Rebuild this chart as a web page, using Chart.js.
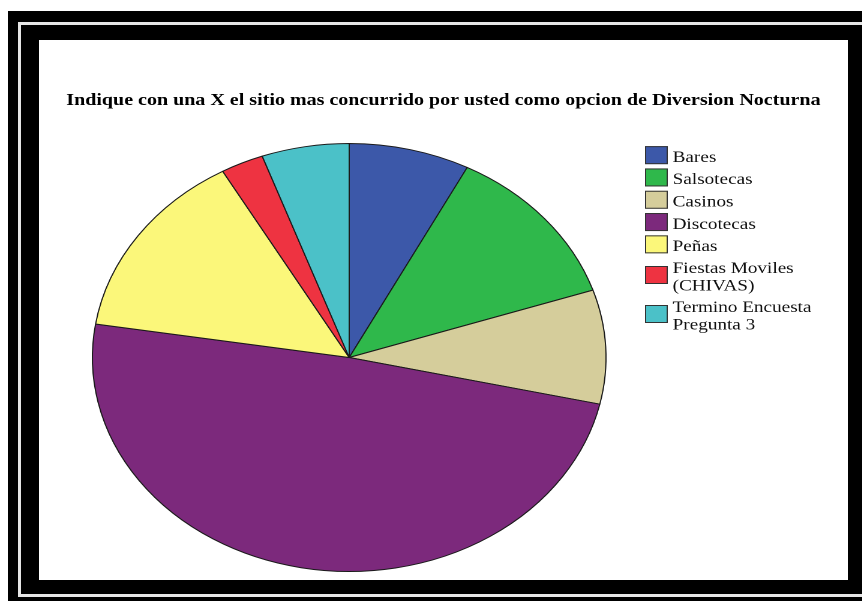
<!DOCTYPE html>
<html>
<head>
<meta charset="utf-8">
<script src="https://cdn.jsdelivr.net/npm/chart.js@4/dist/chart.umd.min.js"></script>
<style>
  html, body { margin: 0; padding: 0; background: #fff; overflow: hidden; }
  body { width: 862px; height: 601px; position: relative; }
  .outer { position: absolute; left: 8px; top: 11px; width: 900px; height: 620px; background: #000; }
  .rule { position: absolute; left: 18px; top: 22px; width: 900px; height: 569px; border: 3px solid #e6e6e6; background: #000; }
  .panel { position: absolute; left: 39px; top: 40px; width: 809px; height: 540px; background: #fff; overflow: hidden; }
  .stretch { position: absolute; left: 0; top: 0; width: 674px; height: 540px; transform: scaleX(1.2); transform-origin: 0 0; }
</style>
</head>
<body>
<div class="outer"></div>
<div class="rule"></div>
<div class="panel">
  <div class="stretch"><canvas id="chart"></canvas></div>
</div>
<script>
// Survey answers (percent of respondents)
const categories = ['Bares', 'Salsotecas', 'Casinos', 'Discotecas', 'Peñas', 'Fiestas Moviles (CHIVAS)', 'Termino Encuesta Pregunta 3'];
const legendLines = [['Bares'], ['Salsotecas'], ['Casinos'], ['Discotecas'], ['Peñas'], ['Fiestas Moviles', '(CHIVAS)'], ['Termino Encuesta', 'Pregunta 3']];
const values = [7.6, 12.3, 8.6, 49.0, 14.3, 2.7, 5.5];
const colors = ['#3c58a9', '#2fb84b', '#d5cd9b', '#7c297c', '#fbf77a', '#ee3341', '#4bc1c8'];
const titleText = 'Indique con una X el sitio mas concurrido por usted como opcion de Diversion Nocturna';

const serif = '"Liberation Serif", "Times New Roman", serif';

// Title and legend drawn directly on the chart canvas
const decorations = {
  id: 'decorations',
  afterDraw(chart) {
    const ctx = chart.ctx;
    ctx.save();
    ctx.fillStyle = '#000';
    ctx.font = 'bold 16.7px ' + serif;
    ctx.textAlign = 'center';
    ctx.textBaseline = 'middle';
    ctx.fillText(titleText, chart.width / 2, 60.5);

    const boxX = 505, boxW = 19, boxH = 18, textX = 528, lineH = 17.5;
    let y = 104;
    ctx.font = '16px ' + serif;
    ctx.textAlign = 'left';
    legendLines.forEach((lines, i) => {
      const h = lines.length === 1 ? 22.3 : 39;
      const cy = y + h / 2;
      ctx.fillStyle = colors[i];
      ctx.fillRect(boxX, cy - boxH / 2, boxW, boxH);
      ctx.strokeStyle = '#333';
      ctx.lineWidth = 1;
      ctx.strokeRect(boxX + 0.5, cy - boxH / 2 + 0.5, boxW - 1, boxH - 1);
      ctx.fillStyle = '#111';
      lines.forEach((t, k) => {
        const ty = cy + (k - (lines.length - 1) / 2) * lineH + 2.5;
        ctx.fillText(t, textX, ty);
      });
      y += h;
    });
    ctx.restore();
  }
};

new Chart(document.getElementById('chart'), {
  type: 'pie',
  data: {
    labels: categories,
    datasets: [{
      data: values,
      backgroundColor: colors,
      borderColor: '#1a1a1a',
      borderWidth: 1
    }]
  },
  options: {
    responsive: true,
    maintainAspectRatio: false,
    devicePixelRatio: 2,
    animation: false,
    layout: { padding: { top: 103, bottom: 8, left: 44, right: 201 } },
    plugins: {
      legend: { display: false },
      title: { display: false },
      tooltip: { enabled: false }
    }
  },
  plugins: [decorations]
});
</script>
</body>
</html>
